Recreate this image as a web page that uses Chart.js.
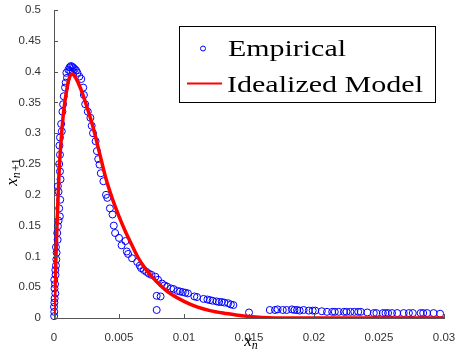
<!DOCTYPE html>
<html>
<head>
<meta charset="utf-8">
<script src="https://cdn.jsdelivr.net/npm/chart.js@4/dist/chart.umd.min.js"></script>
<style>
html,body{margin:0;padding:0;background:#fff;}
#wrap{width:456px;height:358px;position:relative;}
</style>
</head>
<body>
<div id="wrap"><canvas id="c" width="456" height="358"></canvas></div>
<script>
// Empirical observations (x_n, x_{n+1})
const empX = [
0.00001,0.00002,0.00000,0.00003,0.00005,0.00010,0.00004,0.00008,0.00002,0.00012,
0.00010,0.00015,0.00018,0.00020,0.00015,0.00028,0.00025,0.00030,0.00035,0.00045,
0.00040,0.00048,0.00035,0.00030,0.00050,0.00046,0.00040,0.00046,0.00042,0.00046,
0.00060,0.00055,0.00065,0.00070,0.00075,0.00085,0.00090,0.00100,0.00095,
0.00110,0.00120,0.00130,0.00140,0.00150,0.00160,0.00170,0.00125,0.00145,0.00180,
0.00195,0.00210,0.00225,0.00230,0.00240,0.00260,0.00280,0.00290,0.00300,0.00320,
0.00330,0.00340,0.00350,0.00360,0.00380,0.00400,0.00410,0.00430,0.00450,0.00460,
0.00470,0.00500,0.00520,0.00550,0.00560,0.00570,0.00600,0.00640,0.00660,0.00670,
0.00690,0.00710,0.00730,0.00750,0.00780,0.00800,0.00830,0.00850,0.00870,0.00900,
0.00920,0.00950,0.00970,0.00990,0.01010,0.01030,0.01080,0.01100,0.01150,0.01180,
0.01200,0.01220,0.01250,0.01270,0.01290,0.01310,0.01340,0.01360,0.01380,
0.00790,0.00820,0.00790,0.01500,
0.01660,0.01700,0.01720,0.01760,0.01790,0.01830,0.01850,0.01870,0.01890,0.01920,
0.01960,0.01990,0.02010,0.02060,0.02100,0.02140,0.02160,0.02190,0.02230,0.02250,
0.02280,0.02310,0.02340,0.02360,0.02410,0.02460,0.02480,0.02530,0.02550,0.02570,
0.02600,0.02640,0.02690,0.02730,0.02760,0.02820,0.02840,0.02870,0.02920,0.02970
];
const empY = [
0.003,0.010,0.018,0.025,0.032,0.040,0.048,0.055,0.062,0.070,
0.078,0.085,0.095,0.106,0.115,0.127,0.138,0.149,0.158,0.165,
0.178,0.192,0.205,0.214,0.225,0.238,0.250,0.265,0.280,0.293,
0.303,0.315,0.335,0.347,0.360,0.374,0.382,0.390,0.398,
0.403,0.407,0.409,0.408,0.406,0.404,0.402,0.401,0.400,0.398,
0.392,0.388,0.374,0.362,0.347,0.335,0.325,0.312,0.300,0.287,
0.271,0.258,0.249,0.235,0.222,0.200,0.195,0.178,0.168,0.150,
0.138,0.130,0.118,0.125,0.108,0.104,0.097,0.091,0.085,0.081,
0.078,0.075,0.072,0.070,0.067,0.062,0.056,0.053,0.051,0.048,
0.047,0.044,0.043,0.042,0.041,0.040,0.035,0.034,0.031,0.030,
0.029,0.028,0.027,0.026,0.026,0.025,0.024,0.022,0.021,
0.036,0.035,0.013,0.009,
0.013,0.013,0.014,0.013,0.013,0.014,0.013,0.013,0.012,0.013,
0.012,0.012,0.012,0.011,0.010,0.010,0.010,0.010,0.010,0.010,
0.010,0.010,0.010,0.010,0.009,0.008,0.008,0.008,0.008,0.008,
0.008,0.008,0.008,0.008,0.008,0.008,0.008,0.008,0.008,0.007
];
// Idealized model curve
const modelX = [0,0.0001,0.0002,0.0003,0.0004,0.0005,0.0006,0.0007,0.0008,0.0009,0.0010,0.0011,0.0012,0.0013,0.0014,0.0016,0.0020,0.0025,0.0030,0.0035,0.0040,0.0045,0.0050,0.0055,0.0060,0.0065,0.0070,0.0075,0.0080,0.0085,0.0090,0.0100,0.0110,0.0120,0.0130,0.0140,0.0150,0.0160,0.0180,0.0300];
const modelY = [0,0.065,0.130,0.190,0.240,0.275,0.303,0.327,0.345,0.360,0.373,0.384,0.391,0.395,0.396,0.392,0.375,0.345,0.310,0.268,0.226,0.193,0.165,0.140,0.118,0.097,0.081,0.068,0.057,0.047,0.039,0.027,0.018,0.012,0.008,0.005,0.0025,0.001,0,0];
const xTicks = [0,0.005,0.01,0.015,0.02,0.025,0.03];
const yTicks = [0,0.05,0.1,0.15,0.2,0.25,0.3,0.35,0.4,0.45,0.5];
const legendLabels = ['Empirical','Idealized Model'];

const AX = '#555555';
const fmt = v => String(Number(v.toFixed(4)));

const innerTicks = {
  id:'innerTicks',
  afterDraw(chart){
    const {ctx, chartArea:a, scales:{x,y}} = chart;
    ctx.save();
    ctx.strokeStyle = AX; ctx.lineWidth = 1;
    ctx.beginPath();
    xTicks.forEach(v=>{const p=Math.round(x.getPixelForValue(v))+0.5; ctx.moveTo(p,a.bottom); ctx.lineTo(p,a.bottom-4);});
    yTicks.forEach(v=>{const p=Math.round(y.getPixelForValue(v))+0.5; ctx.moveTo(a.left,p); ctx.lineTo(a.left+4,p);});
    ctx.stroke();
    // axis titles
    ctx.fillStyle = '#000';
    ctx.textBaseline = 'alphabetic';
    const cx = (a.left+a.right)/2 + 2;
    ctx.font = 'italic 17px "Liberation Serif"';
    const wx = ctx.measureText('x').width;
    ctx.font = 'italic 12px "Liberation Serif"';
    const wn = ctx.measureText('n').width;
    let sx = cx - (wx+wn)/2;
    ctx.font = 'italic 17px "Liberation Serif"';
    ctx.fillText('x', sx, 346);
    ctx.font = 'italic 12px "Liberation Serif"';
    ctx.fillText('n', sx+wx, 349);
    // y title
    ctx.save();
    ctx.translate(17, 172);
    ctx.rotate(-Math.PI/2);
    ctx.font = 'italic 17px "Liberation Serif"';
    const w1 = ctx.measureText('x').width;
    ctx.font = 'italic 12px "Liberation Serif"';
    const w2 = ctx.measureText('n+1').width;
    const s0 = -(w1+w2)/2;
    ctx.font = 'italic 17px "Liberation Serif"';
    ctx.fillText('x', s0, 0);
    ctx.font = 'italic 12px "Liberation Serif"';
    ctx.fillText('n', s0+w1, 3);
    ctx.font = '12px "Liberation Serif"';
    ctx.fillText('+1', s0+w1+ctx.measureText('n').width+1, 3);
    ctx.restore();
    // legend
    const L=179.5, T=26.5, R=435.5, B=102.5;
    ctx.fillStyle='#fff'; ctx.fillRect(L,T,R-L,B-T);
    ctx.strokeStyle='#000'; ctx.lineWidth=1; ctx.strokeRect(L,T,R-L,B-T);
    ctx.strokeStyle='#0000ff'; ctx.beginPath(); ctx.arc(203,48.5,2.5,0,Math.PI*2); ctx.stroke();
    ctx.strokeStyle='#ff0000'; ctx.lineWidth=2; ctx.beginPath(); ctx.moveTo(187,83.5); ctx.lineTo(222,83.5); ctx.stroke();
    ctx.fillStyle='#000';
    ctx.font='24px "Liberation Serif"';
    const targets=[[legendLabels[0],228,56,118],[legendLabels[1],227,92,196]];
    targets.forEach(([t,px,py,tw])=>{
      const w=ctx.measureText(t).width;
      ctx.save(); ctx.translate(px,py); ctx.scale(tw/w,1); ctx.fillText(t,0,0); ctx.restore();
    });
    ctx.restore();
  }
};

new Chart(document.getElementById('c'), {
  data:{
    datasets:[
      {type:'line', label:legendLabels[1], data:modelX.map((v,i)=>({x:v,y:modelY[i]})),
       borderColor:'#ff0000', borderWidth:3.5, pointRadius:0, fill:false,
       cubicInterpolationMode:'monotone', borderJoinStyle:'round', order:0},
      {type:'scatter', label:legendLabels[0], data:empX.map((v,i)=>({x:v,y:empY[i]})),
       borderColor:'#0000ff', backgroundColor:'rgba(0,0,0,0)', borderWidth:1,
       pointRadius:3.5, pointStyle:'circle', clip:false, order:1}
    ]
  },
  options:{
    responsive:false, animation:false, devicePixelRatio:1,
    layout:{padding:{top:10,right:12,left:0,bottom:0}},
    plugins:{legend:{display:false}, tooltip:{enabled:false}},
    scales:{
      x:{type:'linear', min:0, max:0.03,
         afterBuildTicks(s){s.ticks = xTicks.map(v=>({value:v}));},
         afterFit(s){s.height=40; s.paddingRight=0; s.paddingLeft=0;},
         grid:{display:false}, border:{display:true,color:AX,width:1},
         ticks:{padding:5,color:'#333',font:{family:'"Liberation Sans"',size:11.5},callback:v=>fmt(v),maxRotation:0}},
      y:{type:'linear', min:0, max:0.5,
         afterBuildTicks(s){s.ticks = yTicks.map(v=>({value:v}));},
         afterFit(s){s.width=54; s.paddingTop=0; s.paddingBottom=0;},
         grid:{display:false}, border:{display:true,color:AX,width:1},
         ticks:{padding:5,color:'#333',font:{family:'"Liberation Sans"',size:11.5},callback:v=>fmt(v)}}
    }
  },
  plugins:[innerTicks]
});
</script>
</body>
</html>
